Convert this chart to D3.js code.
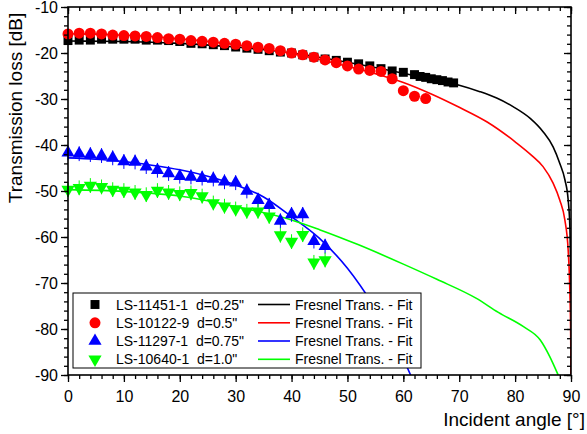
<!DOCTYPE html>
<html><head><meta charset="utf-8">
<script src="https://cdn.jsdelivr.net/npm/d3@7"></script>
<style>
html,body{margin:0;padding:0;background:#fff;}
svg{display:block;font-family:Arial,"Liberation Sans",sans-serif;}
</style></head>
<body><svg id="c" width="587" height="434"></svg>
<script>
// ---- data ----
const angBlack = [0,2,4,6,8,10,12,14,16,18,20,22,24,26,28,30,32,34,36,38,40,42,44,46,48,50,52,54,56,58,60,62,63,64,65,66,67,68,69];
const lossBlack = [-17.3,-17.2,-17.2,-17.0,-17.0,-17.0,-17.0,-17.2,-17.2,-17.3,-17.5,-17.9,-18.0,-18.2,-18.4,-18.7,-18.95,-19.2,-19.5,-19.8,-20.0,-20.4,-20.9,-21.3,-21.6,-22.0,-22.35,-22.8,-23.4,-23.9,-24.2,-24.7,-25.1,-25.3,-25.6,-25.8,-26.0,-26.3,-26.5];
const angRed = [0,2,4,6,8,10,12,14,16,18,20,22,24,26,28,30,32,34,36,38,40,42,44,46,48,50,52,54,56,58,60,62,64];
const lossRed = [-15.85,-15.7,-15.7,-15.85,-16.1,-16.2,-16.3,-16.4,-16.65,-16.9,-17.0,-17.3,-17.45,-17.65,-17.9,-18.1,-18.4,-18.75,-19.0,-19.5,-20.0,-20.4,-20.9,-21.5,-22.1,-22.8,-23.5,-23.8,-24.0,-25.6,-28.2,-29.4,-29.9];
const angBlue = [0,2,4,6,8,10,12,14,16,18,20,22,24,26,28,30,32,34,36,38,40,42,44,46];
const lossBlue = [-41.7,-41.9,-42.1,-42.3,-42.8,-43.6,-43.7,-44.7,-45.5,-46.2,-46.8,-46.95,-47.2,-47.4,-48.0,-48.2,-50.0,-52.0,-53.1,-56.5,-55.1,-55.1,-60.9,-62.0];
const angGreen = [0,2,4,6,8,10,12,14,16,18,20,22,24,26,28,30,32,34,36,38,40,42,44,46];
const lossGreen = [-49.7,-49.3,-48.8,-49.1,-49.7,-49.9,-50.3,-50.8,-49.9,-50.3,-50.6,-50.4,-51.1,-52.6,-53.3,-53.9,-54.4,-54.4,-55.5,-59.6,-61.0,-59.5,-65.5,-65.0];
const errBlack = 0.8, errRed = 0.8, errBlue = 1.6, errGreen = 1.6;

// fit curves
const fitAngBlack = [0,10,20,30,40,50,60,65,70,73.7,76.7,79.7,82.7,85,86.8,88,88.9,89.5,89.8,89.95,90];
const fitBlack = [-17.4,-17.5,-17.9,-18.7,-20.0,-22.0,-24.4,-25.7,-27.0,-28.4,-29.8,-31.7,-34.2,-37.1,-40.4,-44.0,-47.5,-52,-58,-70,-90];
const fitAngRed = [0,10,20,30,40,45,50,55,60,65,70,75,80,83,85,86.8,88,88.9,89.5,89.8,89.95,90];
const fitRed = [-15.8,-16.1,-16.9,-18.2,-20.1,-21.4,-22.9,-24.5,-26.4,-28.9,-31.8,-35.0,-39.3,-42.3,-44.7,-48.3,-52.0,-56.3,-63,-72,-82,-90];
const fitAngBlue = [0,5,10,15,20,25,30,35,40,45,50,55,58,61.3];
const fitBlue = [-42.8,-43.1,-43.6,-44.4,-45.4,-46.8,-48.7,-51.3,-55.6,-60.3,-66.8,-75.5,-81.5,-90];
const fitAngGreen = [0,10,20,30,40,45,52,60,66,73,77,81.5,84.5,86.2,87.7];
const fitGreen = [-49.7,-50.1,-51.1,-53.4,-56.3,-58.4,-61.7,-65.9,-69.2,-73.3,-76.4,-79.5,-82.4,-86.0,-90];

const xTicks = [0,10,20,30,40,50,60,70,80,90];
const yTicks = [-90,-80,-70,-60,-50,-40,-30,-20,-10];
const legendLabels = ['LS-11451-1  d=0.25"','LS-10122-9  d=0.5"','LS-11297-1  d=0.75"','LS-10640-1  d=1.0"'];
const fitLabel = "Fresnel Trans. - Fit";
const xTitle = "Incident angle [°]";
const yTitle = "Transmission loss [dB]";

// ---- chart ----
const L=68,R=571,T=7,B=375;
const svg = d3.select("#c");
const x = d3.scaleLinear().domain([0,90]).range([L,R]);
const y = d3.scaleLinear().domain([-90,-10]).range([B,T]);

svg.append("defs").append("clipPath").attr("id","clip")
  .append("rect").attr("x",L).attr("y",T).attr("width",R-L).attr("height",B-T);

const series = [
  {ang:angBlack, val:lossBlack, err:errBlack, fa:fitAngBlack, fv:fitBlack, color:"#000000", sym:d3.symbolSquare, size:80, rot:0},
  {ang:angRed, val:lossRed, err:errRed, fa:fitAngRed, fv:fitRed, color:"#ff0000", sym:d3.symbolCircle, size:95, rot:0},
  {ang:angBlue, val:lossBlue, err:errBlue, fa:fitAngBlue, fv:fitBlue, color:"#0000ff", sym:d3.symbolTriangle, size:75, rot:0},
  {ang:angGreen, val:lossGreen, err:errGreen, fa:fitAngGreen, fv:fitGreen, color:"#00ff00", sym:d3.symbolTriangle, size:75, rot:180}
];

const line = d3.line().x(d=>x(d[0])).y(d=>y(d[1])).curve(d3.curveMonotoneX);
const plot = svg.append("g");
series.forEach(s=>{
  plot.append("path").attr("clip-path","url(#clip)")
    .attr("d", line(s.fa.map((a,i)=>[a,s.fv[i]])))
    .attr("fill","none").attr("stroke",s.color).attr("stroke-width",1.6);
});
series.forEach(s=>{
  const g = plot.append("g");
  s.ang.forEach((a,i)=>{
    const v = s.val[i];
    g.append("line").attr("x1",x(a)).attr("x2",x(a))
      .attr("y1",y(v+s.err)).attr("y2",y(v-s.err))
      .attr("stroke",s.color).attr("stroke-width",1);
    g.append("path").attr("d", d3.symbol(s.sym, s.size)())
      .attr("transform",`translate(${x(a)},${y(v)}) rotate(${s.rot})`)
      .attr("fill",s.color);
  });
});

// axes
const font = "16px";
function styleAxis(g){ g.selectAll("path.domain").remove(); g.selectAll("line").attr("stroke","#000").attr("stroke-width",1.3); g.selectAll("text").attr("fill","#000").style("font-size",font).style("font-family","Arial, 'Liberation Sans', sans-serif"); }
const minX = d3.range(0,91,2), minY = d3.range(-90,-9,2);
svg.append("g").attr("transform",`translate(0,${B})`).call(d3.axisBottom(x).tickValues(minX).tickSize(4).tickFormat("")).call(styleAxis);
svg.append("g").attr("transform",`translate(0,${B})`).call(d3.axisBottom(x).tickValues(xTicks).tickSize(7).tickPadding(9).tickFormat(d3.format("d"))).call(styleAxis);
svg.append("g").attr("transform",`translate(0,${T})`).call(d3.axisTop(x).tickValues(minX).tickSize(-4).tickFormat("")).call(styleAxis);
svg.append("g").attr("transform",`translate(0,${T})`).call(d3.axisTop(x).tickValues(xTicks).tickSize(-7).tickFormat("")).call(styleAxis);
svg.append("g").attr("transform",`translate(${L},0)`).call(d3.axisLeft(y).tickValues(minY).tickSize(4).tickFormat("")).call(styleAxis);
svg.append("g").attr("transform",`translate(${L},0)`).call(d3.axisLeft(y).tickValues(yTicks).tickSize(7).tickPadding(3).tickFormat(d3.format("d"))).call(styleAxis);
svg.append("g").attr("transform",`translate(${R},0)`).call(d3.axisRight(y).tickValues(minY).tickSize(-4).tickFormat("")).call(styleAxis);
svg.append("g").attr("transform",`translate(${R},0)`).call(d3.axisRight(y).tickValues(yTicks).tickSize(-7).tickFormat("")).call(styleAxis);
svg.selectAll("text").text(function(){ return this.textContent.replace("−","-"); });
svg.append("rect").attr("x",L).attr("y",T).attr("width",R-L).attr("height",B-T)
  .attr("fill","none").attr("stroke","#000").attr("stroke-width",1.6);

// titles
svg.append("text").attr("x",585).attr("y",426).attr("text-anchor","end")
  .style("font-size","19px").text(xTitle);
svg.append("text").attr("transform","translate(22,108) rotate(-90)").attr("text-anchor","middle")
  .style("font-size","19px").text(yTitle);

// legend
const lg = svg.append("g");
lg.append("rect").attr("x",73).attr("y",293).attr("width",348).attr("height",75)
  .attr("fill","#fff").attr("stroke","#000").attr("stroke-width",1);
const rowY = [304.5,322.8,341,359.3];
series.forEach((s,i)=>{
  const yy = rowY[i];
  lg.append("path").attr("d", d3.symbol(s.sym, s.size)())
    .attr("transform",`translate(95,${yy}) rotate(${s.rot})`).attr("fill",s.color);
  lg.append("text").attr("x",116).attr("y",yy+5).style("font-size","14px").style("white-space","pre")
    .attr("xml:space","preserve").text(legendLabels[i]);
  lg.append("line").attr("x1",258).attr("x2",290).attr("y1",yy).attr("y2",yy)
    .attr("stroke",s.color).attr("stroke-width",1.6);
  lg.append("text").attr("x",295).attr("y",yy+5).style("font-size","14px").text(fitLabel);
});
</script>
</body></html>
